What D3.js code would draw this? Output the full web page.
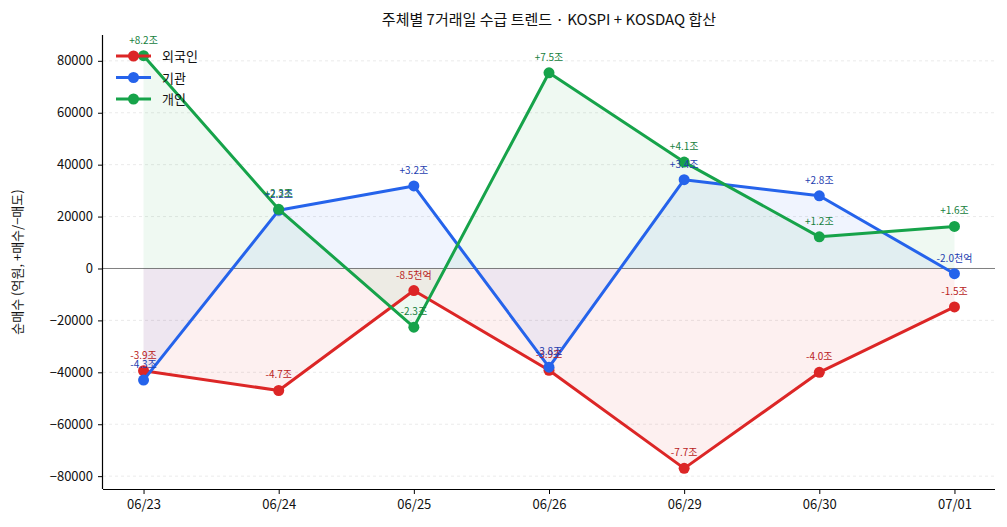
<!DOCTYPE html>
<html>
<head>
<meta charset="utf-8">
<script src="https://cdn.jsdelivr.net/npm/d3@7"></script>
<style>
  body { margin: 0; background: #fff; }
  svg text { font-family: "Noto Sans CJK KR", "Noto Sans", "DejaVu Sans", sans-serif; }
</style>
</head>
<body>
<div id="chart"></div>
<script>
const svgWidth = 1007;
const svgHeight = 527;

const margin = { top: 35, right: 12, bottom: 38, left: 103 };
const width = svgWidth - margin.left - margin.right;
const height = svgHeight - margin.top - margin.bottom;

// data (억원)
const dates = ["06/23", "06/24", "06/25", "06/26", "06/29", "06/30", "07/01"];
const foreign = [-39400, -47000, -8500, -39200, -77000, -40000, -14800];
const institution = [-43000, 22400, 31800, -38000, 34200, 28000, -2000];
const individual = [82000, 22800, -22600, 75400, 41000, 12200, 16200];
const yTicks = [-80000, -60000, -40000, -20000, 0, 20000, 40000, 60000, 80000];

const series = [
  { name: "외국인", values: foreign, color: "#dc2626", labelColor: "#b91c1c" },
  { name: "기관", values: institution, color: "#2563eb", labelColor: "#1e40af" },
  { name: "개인", values: individual, color: "#16a34a", labelColor: "#15803d" }
];

const svg = d3.select("#chart")
  .append("svg")
  .attr("width", svgWidth)
  .attr("height", svgHeight);

const chartGroup = svg.append("g")
  .attr("transform", `translate(${margin.left}, ${margin.top})`);

const x = d3.scalePoint()
  .domain(dates)
  .range([0, width])
  .padding(0.3);

// matplotlib-like 5% margins
const allVals = foreign.concat(institution, individual);
const lo = d3.min(allVals), hi = d3.max(allVals);
const pad = (hi - lo) * 0.05;
const y = d3.scaleLinear()
  .domain([lo - pad, hi + pad])
  .range([height, 0]);

// grid
chartGroup.append("g")
  .selectAll("line")
  .data(yTicks)
  .enter()
  .append("line")
  .attr("x1", 0)
  .attr("x2", width)
  .attr("y1", d => y(d))
  .attr("y2", d => y(d))
  .attr("stroke", "#e5e5e5")
  .attr("stroke-width", 0.8)
  .attr("stroke-dasharray", "3,3");

// zero line
chartGroup.append("line")
  .attr("x1", 0)
  .attr("x2", width)
  .attr("y1", y(0))
  .attr("y2", y(0))
  .attr("stroke", "#808080")
  .attr("stroke-width", 1);

const area = d3.area()
  .x((d, i) => x(dates[i]))
  .y0(y(0))
  .y1(d => y(d));

const line = d3.line()
  .x((d, i) => x(dates[i]))
  .y(d => y(d));

// fills first
series.forEach(s => {
  chartGroup.append("path")
    .datum(s.values)
    .attr("d", area)
    .attr("fill", s.color)
    .attr("fill-opacity", 0.07);
});

function fmt(v) {
  const sign = v > 0 ? "+" : "-";
  const a = Math.abs(v);
  if (a >= 10000) return sign + (a / 10000).toFixed(1) + "조";
  return sign + (a / 1000).toFixed(1) + "천억";
}

series.forEach(s => {
  chartGroup.append("path")
    .datum(s.values)
    .attr("d", line)
    .attr("fill", "none")
    .attr("stroke", s.color)
    .attr("stroke-width", 3)
    .attr("stroke-linejoin", "round");

  chartGroup.append("g")
    .selectAll("circle")
    .data(s.values)
    .enter()
    .append("circle")
    .attr("cx", (d, i) => x(dates[i]))
    .attr("cy", d => y(d))
    .attr("r", 5.5)
    .attr("fill", s.color);
});

// value labels
series.forEach(s => {
  chartGroup.append("g")
    .selectAll("text")
    .data(s.values)
    .enter()
    .append("text")
    .attr("x", (d, i) => x(dates[i]))
    .attr("y", d => y(d) - 12)
    .attr("text-anchor", "middle")
    .attr("font-size", 10)
    .attr("fill", s.labelColor)
    .text(d => fmt(d));
});

// axes
const bottomAxis = d3.axisBottom(x).tickSize(5).tickPadding(6);
const leftAxis = d3.axisLeft(y).tickValues(yTicks).tickFormat(d3.format("d")).tickSize(5).tickPadding(5);

const xAxis = chartGroup.append("g")
  .attr("transform", `translate(0, ${height})`)
  .call(bottomAxis);

const yAxis = chartGroup.append("g")
  .call(leftAxis);

[xAxis, yAxis].forEach(ax => {
  ax.select(".domain").attr("stroke", "#000").attr("stroke-width", 1.2);
  ax.selectAll(".tick line").attr("stroke", "#000");
  ax.selectAll(".tick text").attr("font-size", 13).attr("fill", "#111");
});
xAxis.select(".domain").attr("d", `M0,0.5H${width}`);
yAxis.select(".domain").attr("d", `M-0.5,0V${height}`);

// y label
svg.append("text")
  .attr("transform", `translate(22, ${margin.top + height / 2}) rotate(-90)`)
  .attr("text-anchor", "middle")
  .attr("font-size", 13)
  .attr("fill", "#111")
  .text("순매수 (억원, +매수/−매도)");

// title
svg.append("text")
  .attr("x", margin.left + width / 2)
  .attr("y", 25)
  .attr("text-anchor", "middle")
  .attr("font-size", 15)
  .attr("fill", "#111")
  .text("주체별 7거래일 수급 트렌드 · KOSPI + KOSDAQ 합산");

// legend
const legend = chartGroup.append("g")
  .attr("transform", "translate(13, 21)");

series.forEach((s, i) => {
  const row = legend.append("g").attr("transform", `translate(0, ${i * 21.5})`);
  row.append("line")
    .attr("x1", 0).attr("x2", 35)
    .attr("stroke", s.color)
    .attr("stroke-width", 3);
  row.append("circle")
    .attr("cx", 17.5).attr("cy", 0).attr("r", 5.5)
    .attr("fill", s.color);
  row.append("text")
    .attr("x", 46).attr("y", 5)
    .attr("font-size", 13)
    .attr("fill", "#111")
    .text(s.name);
});
</script>
</body>
</html>
